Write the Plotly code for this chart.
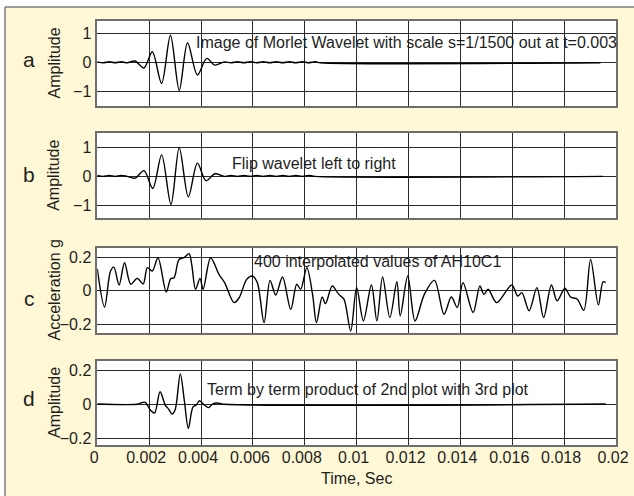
import plotly.graph_objects as go

# ---------------- data ----------------
time_a = [0, 0.00023, 0.00046, 0.00069, 0.00092, 0.00115, 0.00145, 0.0018, 0.00212, 0.00248,
          0.00282, 0.00316, 0.00348, 0.00386, 0.00422, 0.00453, 0.0049, 0.00515, 0.0054, 0.00565,
          0.0059, 0.00615, 0.0064, 0.00665, 0.0069, 0.00715, 0.0074, 0.00765, 0.0079, 0.00815,
          0.0084, 0.0086, 0.0194]
amp_a = [0.03, 0.0, 0.035, 0.0, 0.035, 0.0, 0.06, -0.18, 0.38, -0.71,
         0.95, -0.95, 0.69, -0.42, 0.15, -0.08, 0.03, 0.0, 0.035, 0.0,
         0.035, 0.0, 0.035, 0.0, 0.035, 0.0, 0.035, 0.0, 0.035, 0.0,
         0.035, 0.0, 0.0]

time_b = [0, 0.00023, 0.00046, 0.00069, 0.00092, 0.00115, 0.00146, 0.0018, 0.00214, 0.00248,
          0.00284, 0.00316, 0.00351, 0.00386, 0.00419, 0.00454, 0.0049, 0.00515, 0.0054, 0.00565,
          0.0059, 0.00615, 0.0064, 0.00665, 0.0069, 0.00715, 0.0074, 0.00765, 0.0079, 0.00815,
          0.0084, 0.0195]
amp_b = [0.03, 0.0, 0.035, 0.0, 0.035, 0.0, -0.06, 0.2, -0.42, 0.75,
         -0.98, 1.0, -0.71, 0.46, -0.15, 0.09, 0.0, 0.035, 0.0, 0.035,
         0.0, 0.035, 0.0, 0.035, 0.0, 0.035, 0.0, 0.035, 0.0, 0.035,
         0.0, 0.0]

time_c = [0, 0.00028, 0.00051, 0.00064, 0.00084, 0.00105, 0.00129, 0.00154, 0.00177, 0.00193,
          0.00212, 0.00234, 0.00266, 0.00283, 0.00296, 0.00315, 0.00334, 0.00354, 0.00364, 0.00379,
          0.00396, 0.00408, 0.00437, 0.00469, 0.00491, 0.00527, 0.00547, 0.00576, 0.00598, 0.00617,
          0.00643, 0.00666, 0.00688, 0.00714, 0.00746, 0.00769, 0.00784, 0.00808, 0.0083, 0.00845,
          0.00867, 0.0088, 0.00906, 0.00931, 0.00951, 0.00977, 0.0100, 0.01026, 0.01057, 0.01078,
          0.0110, 0.01128, 0.01155, 0.01168, 0.01197, 0.01225, 0.01261, 0.0130, 0.01337, 0.01365,
          0.01388, 0.0141, 0.01449, 0.01475, 0.01491, 0.01507, 0.0154, 0.01598, 0.01621, 0.01637,
          0.01665, 0.01695, 0.01721, 0.01751, 0.01773, 0.01803, 0.01825, 0.0185, 0.01876, 0.01902,
          0.01932, 0.0195, 0.0196]
accel_c = [0.13, -0.097, 0.117, 0.14, 0.034, 0.166, 0.038, 0.073, 0.04, 0.137,
           0.117, 0.196, -0.008, 0.071, 0.077, 0.186, 0.196, 0.22, 0.156, 0.008,
           0.073, 0.008, 0.196, 0.097, 0.048, -0.071, -0.042, 0.067, 0.087, 0.048,
           -0.19, 0.061, -0.026, 0.081, -0.111, 0.038, 0.008, 0.137, -0.022, -0.19,
           -0.038, -0.077, 0.028, -0.022, -0.05, -0.24, 0.018, -0.18, 0.034, -0.18,
           0.081, -0.16, 0.053, -0.15, 0.087, -0.18, -0.022, 0.061, -0.14, -0.038,
           -0.1, 0.048, -0.13, 0.028, -0.022, 0.008, -0.071, 0.034, -0.032, -0.012,
           -0.12, 0.018, -0.16, 0.034, -0.061, 0.014, -0.038, -0.05, -0.117, 0.186,
           -0.085, 0.053, 0.048]

time_d = [0, 0.0016, 0.00171, 0.00185, 0.00206, 0.00221, 0.00242, 0.00262, 0.00275, 0.00288,
          0.0030, 0.0032, 0.00336, 0.00351, 0.00369, 0.00382, 0.00394, 0.00413, 0.00429, 0.00444,
          0.00465, 0.0048, 0.0196]
prod_d = [0, 0, 0.008, 0.01, -0.038, -0.053, 0.072, -0.006, -0.03, -0.059,
          -0.035, 0.177, 0.015, -0.143, -0.017, -0.005, 0.019, -0.006, -0.021, 0.0,
          0.006, 0.0, 0.0]

x_tickvals = [0, 0.002, 0.004, 0.006, 0.008, 0.01, 0.012, 0.014, 0.016, 0.018, 0.02]
x_ticktext = ['0', '0.002', '0.004', '0.006', '0.008', '0.01', '0.012', '0.014', '0.016', '0.018', '0.02']
amp_ticks = [-1, 0, 1]
amp_ticktext = ['\u22121', '0', '1']
small_ticks = [-0.2, 0, 0.2]
small_ticktext = ['\u22120.2', '0', '0.2']

letters = ['a', 'b', 'c', 'd']
ytitles = ['Amplitude', 'Amplitude', 'Acceleration g', 'Amplitude']
notes = ['Image of Morlet Wavelet with scale s=1/1500 out at t=0.003',
         'Flip wavelet left to right',
         '400 interpolated values of AH10C1',
         'Term by term product of 2nd plot with 3rd plot']

# ---------------- layout helpers ----------------
W, H = 634, 496
FONT = 'Liberation Sans, Arial, sans-serif'
TXT = '#1e1e1e'
PANEL_BG = '#FEF8D6'


def px(x):
    return x / W


def py(y):
    return 1 - y / H


X_LEFT, X_RIGHT = 97.3, 616.0
# (top px, bottom px, y range, tick vals, tick text, letter-y, note x, note y)
panels = [
    (21.0, 106.0, [-1.49, 1.44], amp_ticks, amp_ticktext, 59.5, 194, 42),
    (133.3, 218.3, [-1.46, 1.50], amp_ticks, amp_ticktext, 174.5, 230, 164),
    (248.3, 332.7, [-0.25, 0.252], small_ticks, small_ticktext, 298.5, 252, 261),
    (361.0, 445.0, [-0.241, 0.253], small_ticks, small_ticktext, 398.5, 205, 389),
]
series = [(time_a, amp_a), (time_b, amp_b), (time_c, accel_c), (time_d, prod_d)]

fig = go.Figure()
layout = dict(
    width=W, height=H,
    margin=dict(l=0, r=0, t=0, b=0, autoexpand=False),
    paper_bgcolor=PANEL_BG,
    plot_bgcolor='white',
    showlegend=False,
    font=dict(family=FONT, size=16, color=TXT),
)

annotations = []
for i, (top, bot, yr, tv, tt, ly, nx, ny) in enumerate(panels):
    n = '' if i == 0 else str(i + 1)
    xa = 'xaxis' + n
    ya = 'yaxis' + n
    t, v = series[i]
    fig.add_trace(go.Scatter(
        x=t, y=v, mode='lines',
        line=dict(color='black', width=1.4, shape='spline', smoothing=0.9),
        xaxis='x' + n, yaxis='y' + n, hoverinfo='skip'))
    layout[xa] = dict(
        domain=[px(X_LEFT), px(X_RIGHT)], range=[0, 0.02], anchor='y' + n,
        tickvals=x_tickvals, ticktext=x_ticktext, showticklabels=(i == 3),
        showgrid=True, gridcolor='#2a2a2a', gridwidth=1, zeroline=False,
        showline=True, mirror=True, linecolor='#6e6e6e', linewidth=1.5,
        ticks='', ticklabelstandoff=-3, ticklabelshift=-3, automargin=False,
        tickfont=dict(family=FONT, size=16, color=TXT),
        fixedrange=True,
    )
    layout[ya] = dict(
        domain=[py(bot), py(top)], range=yr, anchor='x' + n,
        tickvals=tv, ticktext=tt, automargin=False,
        showgrid=True, gridcolor='#2a2a2a', gridwidth=1, zeroline=False,
        showline=True, mirror=True, linecolor='#6e6e6e', linewidth=1.5,
        ticks='outside', ticklen=1, tickcolor='rgba(0,0,0,0)',
        tickfont=dict(family=FONT, size=16, color=TXT),
        fixedrange=True,
    )
    mid = (top + bot) / 2
    annotations.append(dict(text=letters[i], x=px(29), y=py(ly), xref='paper', yref='paper',
                            xanchor='center', yanchor='middle', showarrow=False,
                            font=dict(family=FONT, size=21, color=TXT)))
    annotations.append(dict(text=ytitles[i], x=px(54), y=py(mid), xref='paper', yref='paper',
                            xanchor='center', yanchor='middle', showarrow=False, textangle=-90,
                            font=dict(family=FONT, size=16, color=TXT)))
    annotations.append(dict(text=notes[i], x=px(nx), y=py(ny), xref='paper', yref='paper',
                            xanchor='left', yanchor='middle', showarrow=False,
                            font=dict(family=FONT, size=16, color=TXT)))

annotations.append(dict(text='Time, Sec', x=px((X_LEFT + X_RIGHT) / 2), y=py(478.5),
                        xref='paper', yref='paper', xanchor='center', yanchor='middle',
                        showarrow=False, font=dict(family=FONT, size=16, color=TXT)))

layout['annotations'] = annotations
layout['shapes'] = [
    # white strips outside the framed panel (left and top)
    dict(type='rect', xref='paper', yref='paper', layer='below',
         x0=0, x1=px(5), y0=0, y1=1, fillcolor='white', line=dict(width=0)),
    dict(type='rect', xref='paper', yref='paper', layer='below',
         x0=0, x1=1, y0=py(7), y1=1, fillcolor='white', line=dict(width=0)),
    # frame edges
    dict(type='line', xref='paper', yref='paper', layer='below',
         x0=px(5), x1=px(5), y0=0, y1=py(7), line=dict(color='#7c7c7c', width=1.5)),
    dict(type='line', xref='paper', yref='paper', layer='below',
         x0=px(5), x1=1, y0=py(7), y1=py(7), line=dict(color='#7c7c7c', width=1.5)),
]

fig.update_layout(**layout)
fig.write_html('out.html')
